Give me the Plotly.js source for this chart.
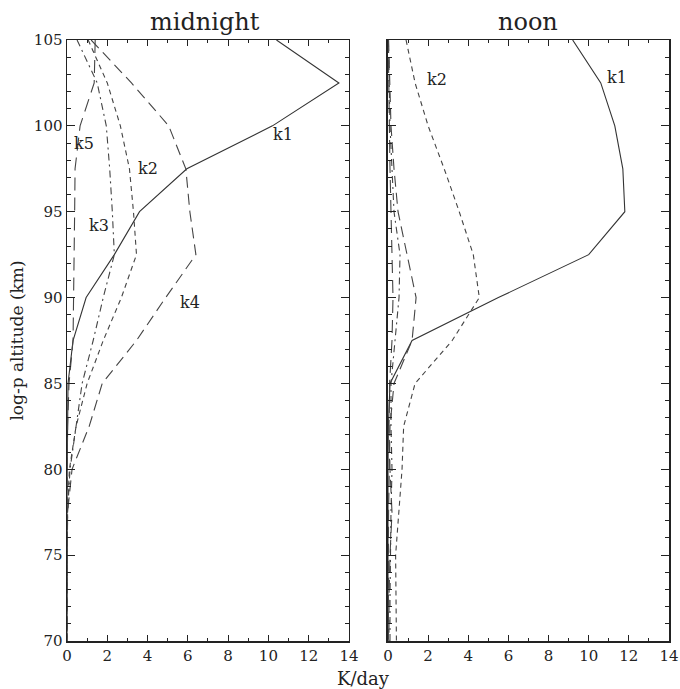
<!DOCTYPE html>
<html>
<head>
<meta charset="utf-8">
<script src="https://cdn.plot.ly/plotly-3.0.1.min.js"></script>
<style>html,body{margin:0;padding:0;background:#fff;}#plot{width:680px;height:689px;}</style>
</head>
<body>
<div id="plot"></div>
<script>
// log-p altitude levels (km)
const altitude = [105, 102.5, 100, 97.5, 95, 92.5, 90, 87.5, 85, 82.5, 80, 77.5, 75, 72.5, 70];

// midnight heating rates (K/day)
const midK1 = [10.4, 13.5, 10.2, 5.95, 3.6, 2.35, 0.95, 0.3, 0.05, 0.02, 0.01, 0, 0, 0, 0];
const midK2 = [1.05, 2.0, 2.65, 3.1, 3.3, 3.45, 2.7, 1.8, 1.0, 0.45, 0.12, 0.02, 0, 0, 0];
const midK3 = [0.5, 1.5, 1.95, 2.12, 2.25, 2.35, 1.8, 1.3, 0.75, 0.45, 0.15, 0.03, 0, 0, 0];
const midK4 = [1.2, 3.2, 5.05, 5.9, 6.1, 6.4, 4.9, 3.45, 1.75, 1.1, 0.25, 0.03, 0.01, 0, 0];
const midK5 = [1.4, 1.35, 0.65, 0.4, 0.38, 0.36, 0.34, 0.3, 0.1, 0.03, 0.01, 0, 0, 0, 0];

// noon heating rates (K/day)
const noonK1 = [9.2, 10.6, 11.3, 11.7, 11.8, 10.0, 5.5, 1.2, 0.1, 0.02, 0, 0, 0, 0, 0];
const noonK2 = [0.9, 1.35, 2.0, 2.8, 3.55, 4.25, 4.55, 3.2, 1.35, 0.78, 0.7, 0.55, 0.38, 0.4, 0.42];
const noonK3 = [0.02, 0.05, 0.1, 0.2, 0.3, 0.6, 0.55, 0.35, 0.15, 0.15, 0.2, 0.15, 0.12, 0.1, 0.1];
const noonK4 = [0.03, 0.08, 0.15, 0.3, 0.5, 0.95, 1.4, 1.2, 0.3, 0.1, 0.05, 0.03, 0.02, 0.02, 0.02];
const noonK5 = [0.01, 0.03, 0.06, 0.1, 0.15, 0.2, 0.25, 0.2, 0.08, 0.05, 0.1, 0.2, 0.1, 0.05, 0.05];

const seriesNames = ["k1", "k2", "k3", "k4", "k5"];
const midSeries = [midK1, midK2, midK3, midK4, midK5];
const noonSeries = [noonK1, noonK2, noonK3, noonK4, noonK5];

const xTickVals = [0, 2, 4, 6, 8, 10, 12, 14];
const yTickVals = [70, 75, 80, 85, 90, 95, 100, 105];

const styles = [
  {dash: "solid", color: "#333"},
  {dash: "5px,4px", color: "#444"},
  {dash: "7px,4px,2px,4px", color: "#444"},
  {dash: "11px,6px", color: "#444"},
  {dash: "13px,7px", color: "#444"}
];

const traces = [];
midSeries.forEach((vals, i) => {
  traces.push({x: vals, y: altitude, xaxis: "x", yaxis: "y", mode: "lines", name: seriesNames[i],
    line: {color: styles[i].color, width: 1.1, dash: styles[i].dash}, showlegend: false, hoverinfo: "skip"});
});
noonSeries.forEach((vals, i) => {
  traces.push({x: vals, y: altitude, xaxis: "x2", yaxis: "y2", mode: "lines", name: seriesNames[i],
    line: {color: styles[i].color, width: 1.1, dash: styles[i].dash}, showlegend: false, hoverinfo: "skip"});
});

const serif = "DejaVu Serif, Liberation Serif, serif";
const font = {family: serif, size: 15, color: "#222"};

function xAx(domain, anchor) {
  return {domain: domain, anchor: anchor, range: [0, 14], tickvals: xTickVals, ticktext: xTickVals.map(String),
    ticks: "inside", ticklen: 6, tickwidth: 1, tickcolor: "#222", mirror: "allticks",
    showline: true, linecolor: "#222", linewidth: 1.5, showgrid: false, zeroline: false,
    minor: {dtick: 1, ticks: "inside", ticklen: 3, tickcolor: "#222", showgrid: false},
    tickfont: font, fixedrange: true};
}
function yAx(anchor, showLabels) {
  return {anchor: anchor, domain: [0, 1], range: [70, 105], tickvals: yTickVals, ticktext: yTickVals.map(String),
    showticklabels: showLabels,
    ticks: "inside", ticklen: 8, tickwidth: 1, tickcolor: "#222", mirror: "allticks",
    showline: true, linecolor: "#222", linewidth: 1.5, showgrid: false, zeroline: false,
    minor: {dtick: 1, ticks: "inside", ticklen: 4, tickcolor: "#222", showgrid: false},
    tickfont: font, fixedrange: true};
}

const labelFont = {family: serif, size: 16, color: "#222"};
const annotations = [
  {xref: "x domain", yref: "paper", x: 0.49, y: 1, yanchor: "bottom", yshift: 2, text: "midnight", showarrow: false,
    font: {family: serif, size: 24, color: "#222"}},
  {xref: "x2 domain", yref: "paper", x: 0.5, y: 1, yanchor: "bottom", yshift: 2, text: "noon", showarrow: false,
    font: {family: serif, size: 24, color: "#222"}},
  {xref: "paper", yref: "paper", x: 0.493, y: 0, yanchor: "top", yshift: -25, text: "K/day", showarrow: false,
    font: {family: serif, size: 18, color: "#222"}},
  {xref: "x", yref: "y", x: 10.7, y: 99.5, text: "k1", showarrow: false, font: labelFont},
  {xref: "x", yref: "y", x: 4.0, y: 97.5, text: "k2", showarrow: false, font: labelFont},
  {xref: "x", yref: "y", x: 1.6, y: 94.2, text: "k3", showarrow: false, font: labelFont},
  {xref: "x", yref: "y", x: 6.1, y: 89.7, text: "k4", showarrow: false, font: labelFont},
  {xref: "x", yref: "y", x: 0.85, y: 99.0, text: "k5", showarrow: false, font: labelFont},
  {xref: "x2", yref: "y2", x: 11.4, y: 102.8, text: "k1", showarrow: false, font: labelFont},
  {xref: "x2", yref: "y2", x: 2.45, y: 102.7, text: "k2", showarrow: false, font: labelFont}
];

const yaxis1 = yAx("x", true);
yaxis1.title = {text: "log-p altitude (km)", font: {family: serif, size: 17, color: "#222"}, standoff: 6};

const layout = {
  width: 680, height: 689,
  margin: {l: 67, r: 11, t: 40, b: 48},
  paper_bgcolor: "#fff", plot_bgcolor: "#fff",
  showlegend: false,
  xaxis: xAx([0, 0.4684], "y"),
  yaxis: yaxis1,
  xaxis2: xAx([0.5332, 1], "y2"),
  yaxis2: yAx("x2", false),
  annotations: annotations
};

Plotly.newPlot("plot", traces, layout, {staticPlot: true, displayModeBar: false});
</script>
</body>
</html>
